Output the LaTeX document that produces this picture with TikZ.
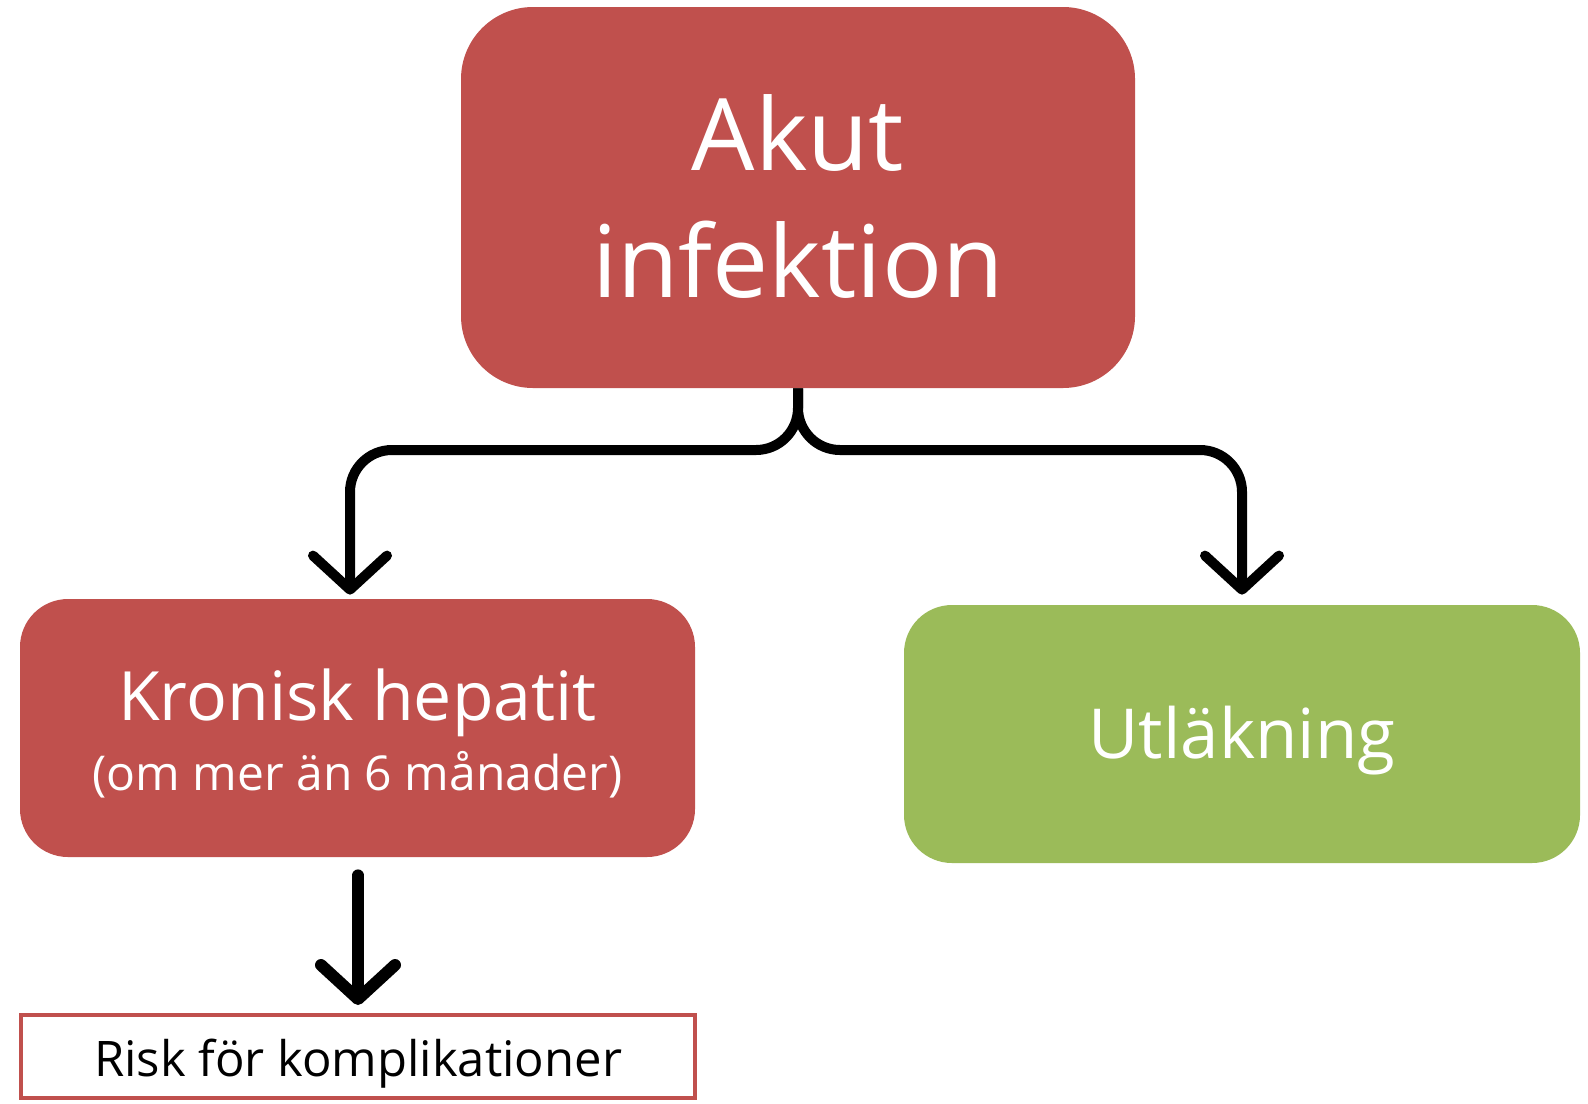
\documentclass[tikz,border=0pt]{standalone}
\usepackage{fontspec}
\setmainfont{Open Sans}
\usepackage{tikz}
\usetikzlibrary{arrows.meta}
\usetikzlibrary{positioning}

\definecolor{boxred}{HTML}{C0504D}
\definecolor{boxgreen}{HTML}{9BBB59}

\newcommand{\lowertext}[2]{\raisebox{-#1}[\height][\depth]{#2}}

\tikzset{
  redbox/.style={fill=boxred,text=white,rounded corners=36pt,inner sep=0pt,align=center},
  greenbox/.style={fill=boxgreen,text=white,rounded corners=24pt,inner sep=0pt,align=center},
  conn/.style={line width=5pt,rounded corners=21pt,-{Straight Barb[round,length=17pt,width=37pt]}},
}

\begin{document}
\begin{tikzpicture}[x=0.5pt,y=-0.5pt]
\useasboundingbox (0,0) rectangle (1588,1103);

\node [redbox,minimum width=337pt,minimum height=190.5pt,font=\fontsize{50pt}{65pt}\selectfont] (akut) at (798,197.5)
  {Akut\\\lowertext{-1.5pt}{infektion}};
\node [redbox,rounded corners=24pt,minimum width=337.5pt,minimum height=129pt,font=\fontsize{34pt}{36pt}\selectfont] (kronisk) at (357.5,728)
  {\lowertext{6pt}{Kronisk hepatit}\\[6pt]{\fontsize{24pt}{30pt}\selectfont\lowertext{-1pt}{(om mer än 6 månader)}}};
\node [greenbox,minimum width=338pt,minimum height=129pt,font=\fontsize{34.5pt}{40pt}\selectfont] (utlakning) at (1242,734)
  {\lowertext{3.5pt}{Utläkning}};
\node [draw=boxred,line width=2pt,fill=white,inner sep=0pt,minimum width=337pt,minimum height=41.5pt,font=\fontsize{24.5pt}{30pt}\selectfont] (risk) at (358,1056.5)
  {\lowertext{3.5pt}{Risk för komplikationer}};

\draw [conn] (akut.south) |- ([xshift=-3.75pt]kronisk.north |- 0,450) -- ([xshift=-3.75pt,yshift=2pt]kronisk.north);
\draw [conn] (akut.south) |- (utlakning.north |- 0,450) -- ([yshift=5pt]utlakning.north);

\draw [line width=6pt,line cap=round,-{Straight Barb[round,length=17pt,width=37pt]},shorten <=9pt,shorten >=4pt] (risk.north |- kronisk.south) -- (risk.north);
\end{tikzpicture}
\end{document}
